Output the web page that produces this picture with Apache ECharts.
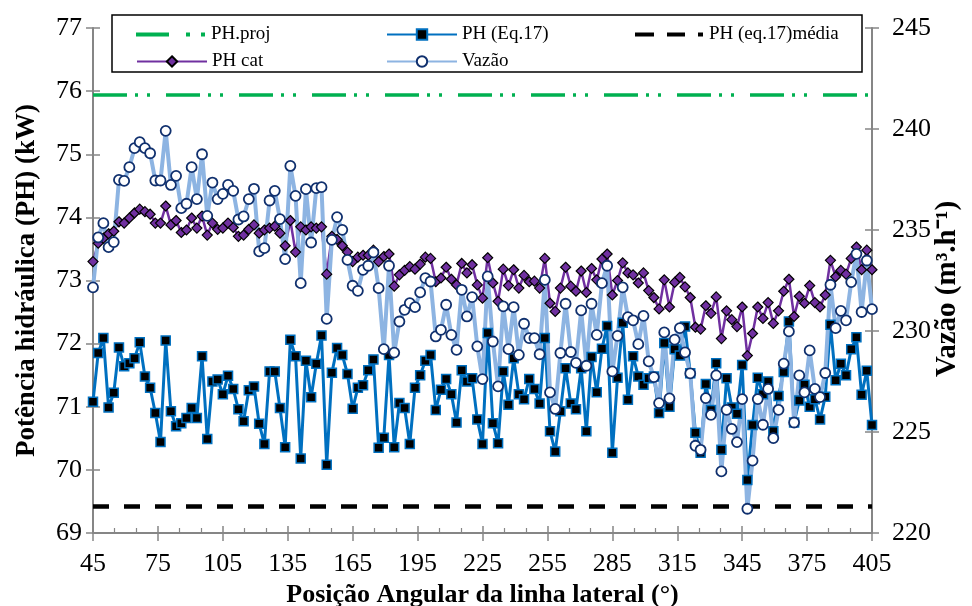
<!DOCTYPE html>
<html>
<head>
<meta charset="utf-8">
<script src="https://cdn.jsdelivr.net/npm/echarts@6/dist/echarts.min.js"></script>
<style>html,body{margin:0;padding:0;background:#fff}#c{width:972px;height:606px}</style>
</head>
<body>
<div id="c"></div>
<script>
// Angular positions (degrees)
const angles = [
45,47.4,49.8,52.2,54.6, 57,59.4,61.8,64.2,66.6, 69,71.4,73.8,76.2,78.6, 81,83.4,85.8,88.2,90.6,
93,95.4,97.8,100.2,102.6, 105,107.4,109.8,112.2,114.6, 117,119.4,121.8,124.2,126.6, 129,131.4,133.8,136.2,138.6,
141,143.4,145.8,148.2,150.6, 153,155.4,157.8,160.2,162.6, 165,167.4,169.8,172.2,174.6, 177,179.4,181.8,184.2,186.6,
189,191.4,193.8,196.2,198.6, 201,203.4,205.8,208.2,210.6, 213,215.4,217.8,220.2,222.6, 225,227.4,229.8,232.2,234.6,
237,239.4,241.8,244.2,246.6, 249,251.4,253.8,256.2,258.6, 261,263.4,265.8,268.2,270.6, 273,275.4,277.8,280.2,282.6,
285,287.4,289.8,292.2,294.6, 297,299.4,301.8,304.2,306.6, 309,311.4,313.8,316.2,318.6, 321,323.4,325.8,328.2,330.6,
333,335.4,337.8,340.2,342.6, 345,347.4,349.8,352.2,354.6, 357,359.4,361.8,364.2,366.6, 369,371.4,373.8,376.2,378.6,
381,383.4,385.8,388.2,390.6, 393,395.4,397.8,400.2,402.6, 405
];

// PH (Eq.17) [kW]
const phEq17 = [
71.08,71.85,72.09,70.99,71.22,71.94,71.64,71.69,71.77,72.02,71.48,71.30,70.90,70.44,72.05,70.93,70.69,70.74,70.82,
70.98,70.82,71.80,70.49,71.40,71.43,71.20,71.49,71.28,70.96,70.77,71.26,71.32,70.73,70.41,71.56,71.56,70.98,70.36,
72.06,71.80,70.18,71.73,71.15,71.68,72.13,70.08,71.54,71.93,71.82,71.52,70.97,71.30,71.34,71.58,71.75,70.35,70.51,71.82,
70.36,71.06,70.98,70.41,71.30,71.50,71.73,71.82,70.95,71.27,71.44,71.20,70.75,71.58,71.40,71.45,70.80,70.41,72.17,
70.74,70.42,71.56,71.03,71.77,71.20,71.12,71.44,71.28,71.05,72.09,70.61,70.29,70.93,71.61,71.05,70.96,71.61,70.61,
71.79,71.23,71.92,72.28,70.27,71.46,72.33,71.11,71.80,71.48,71.35,71.45,71.48,70.90,72.01,71.00,71.91,71.81,72.27,71.53,
70.59,70.27,71.36,70.95,71.69,70.32,71.45,70.99,70.89,71.66,69.84,70.71,71.46,71.20,71.40,70.61,71.17,71.55,72.35,
70.75,71.10,71.35,71.00,71.12,70.80,71.16,72.30,71.42,71.68,71.50,71.91,72.10,71.19,71.57,70.71
];

// PH cat [kW]
const phCat = [
73.30,73.59,73.67,73.74,73.78,73.93,73.91,73.99,74.07,74.13,74.09,74.05,73.91,73.91,74.18,73.88,73.95,73.76,73.80,
73.99,73.83,74.02,73.72,73.91,73.81,73.83,73.91,73.84,73.70,73.72,73.81,73.88,73.75,73.80,73.83,73.86,73.75,73.55,
73.95,73.45,73.85,73.80,73.85,73.83,73.85,73.10,73.70,73.65,73.55,73.45,73.30,73.37,73.40,73.40,73.48,73.30,73.38,73.42,
72.91,73.09,73.16,73.22,73.18,73.26,73.37,73.35,72.98,73.04,73.21,73.02,72.93,73.27,73.12,73.25,72.93,72.72,73.36,
72.96,72.67,73.18,72.92,73.17,72.88,73.08,72.98,72.99,72.88,73.35,72.64,72.51,72.88,73.21,72.91,72.83,73.15,72.81,
73.19,73.01,73.34,73.42,72.77,73.00,73.28,73.12,73.09,72.96,73.12,72.84,72.73,72.55,73.01,72.58,72.97,73.05,72.90,72.73,
72.26,72.23,72.60,72.48,72.74,72.08,72.52,72.38,72.27,72.58,71.81,72.16,72.58,72.40,72.65,72.32,72.52,72.83,73.02,
72.43,72.75,72.64,72.92,72.65,72.58,72.77,73.32,73.06,73.16,73.10,73.35,73.53,73.17,73.48,73.17
];

// Vazão [m3/h]
const vazao = [
232.16,234.63,235.34,234.15,234.40,237.48,237.43,238.11,239.05,239.35,239.05,238.80,237.45,237.45,239.91,237.23,237.68,236.08,236.30,
238.11,236.53,238.75,235.70,237.35,236.53,236.79,237.23,236.94,235.52,235.67,236.53,237.04,233.94,234.10,236.46,236.94,235.54,233.56,
238.17,236.69,232.37,237.02,234.38,237.07,237.12,230.60,234.51,235.64,235.01,233.52,232.24,231.99,233.03,233.23,233.89,232.12,229.10,233.23,
228.93,230.47,231.05,231.38,231.18,231.91,232.62,232.45,229.73,230.06,231.30,229.81,229.07,232.04,230.72,231.68,229.24,227.62,232.70,
229.48,227.26,231.22,229.10,231.18,228.82,230.36,229.65,229.65,228.85,232.53,226.96,226.14,228.91,231.35,228.96,228.42,231.02,228.28,
231.35,229.81,232.37,233.23,228.00,229.76,232.16,230.69,230.53,229.35,230.75,228.50,227.72,226.43,229.93,226.66,229.57,230.14,228.94,227.90,
224.32,224.12,226.68,225.85,227.80,223.05,226.10,225.15,224.50,226.63,221.20,223.58,226.63,225.36,227.13,224.70,226.10,228.38,229.98,
225.47,227.80,226.96,229.04,227.13,226.73,227.92,232.29,230.14,231.00,230.53,232.42,233.82,230.94,233.49,231.08
];

// Constant reference levels [kW]
const phProj = 75.94;
const phMedia = 69.42;

// Axis settings
const xTicks = {min: 45, max: 405, interval: 30};
const yLeft = {min: 69, max: 77, interval: 1};
const yRight = {min: 220, max: 245, interval: 5};

const FONT = '"Liberation Serif", "Times New Roman", serif';
const pair = arr => angles.map((a, i) => [a, arr[i]]);
const flat = v => [[angles[0], v], [angles[angles.length - 1], v]];

const axisGray = '#868686';
const chart = echarts.init(document.getElementById('c'), null, {renderer: 'canvas'});

const baseY = (cfg, pos, margin) => ({
  type: 'value', position: pos, min: cfg.min, max: cfg.max, interval: cfg.interval,
  splitLine: {show: false},
  axisLine: {show: true, onZero: false, lineStyle: {color: axisGray, width: 2}},
  axisTick: {show: true, inside: false, length: 7, lineStyle: {color: axisGray, width: 1.5}},
  axisLabel: {color: '#000', fontFamily: FONT, fontSize: 26, margin: margin}
});

const legendText = {fontFamily: FONT, fontSize: 19, color: '#000'};
const legendBase = {z: 5, itemGap: 0, padding: 0, textStyle: legendText};

const option = {
  animation: false,
  backgroundColor: '#fff',
  grid: {left: 93, right: 100, top: 28, bottom: 73, containLabel: false, outerBoundsMode: 'none'},
  graphic: [{
    type: 'rect', z: 1,
    shape: {x: 112, y: 15, width: 750, height: 57},
    style: {fill: '#fff', stroke: '#000', lineWidth: 1.5}
  }, {
    type: 'text', z: 5, x: 948, y: 289, rotation: Math.PI / 2,
    style: {
      text: 'Vazão (m³.h⁻¹)', fill: '#000', fontFamily: FONT, fontSize: 29, fontWeight: 'bold',
      align: 'center', verticalAlign: 'middle', textAlign: 'center', textVerticalAlign: 'middle'
    }
  }],
  legend: [
    Object.assign({data: [{name: 'PH.proj', icon: 'path://M0,0h33v4h-33zM50,0h4v4h-4zM65,0h4v4h-4z'}],
      left: 136, top: 25, itemWidth: 71, itemHeight: 4}, legendBase),
    Object.assign({data: ['PH (Eq.17)'], left: 386, top: 25, itemWidth: 70, itemHeight: 13}, legendBase),
    Object.assign({data: [{name: 'PH (eq.17)média', icon: 'path://M0,0h19v4h-19zM32,0h18v4h-18zM63,0h5v4h-5z'}],
      left: 635, top: 25, itemWidth: 70, itemHeight: 4}, legendBase),
    Object.assign({data: ['PH cat'], left: 136, top: 52, itemWidth: 70, itemHeight: 13}, legendBase),
    Object.assign({data: ['Vazão'], left: 386, top: 52, itemWidth: 70, itemHeight: 13}, legendBase)
  ],
  xAxis: [{
    type: 'value', position: 'bottom', min: xTicks.min, max: xTicks.max, interval: xTicks.interval,
    splitLine: {show: false},
    axisLine: {show: true, onZero: false, lineStyle: {color: axisGray, width: 2}},
    axisTick: {show: true, inside: false, length: 8, lineStyle: {color: axisGray, width: 1.5}},
    axisLabel: {color: '#000', fontFamily: FONT, fontSize: 26, margin: 18},
    name: 'Posição Angular da linha lateral (°)', nameLocation: 'middle', nameGap: 45,
    nameTextStyle: {color: '#000', fontFamily: FONT, fontSize: 26, fontWeight: 'bold'}
  }, {
    type: 'value', position: 'bottom', min: xTicks.min, max: xTicks.max, interval: xTicks.interval,
    splitLine: {show: false},
    axisLine: {show: false, onZero: false},
    axisTick: {show: true, inside: true, length: 7, lineStyle: {color: axisGray, width: 1.5}},
    minorTick: {show: true, splitNumber: 3, length: 5, lineStyle: {color: axisGray, width: 1.2}},
    axisLabel: {show: false}
  }],
  yAxis: [
    Object.assign(baseY(yLeft, 'left', 11), {
      name: 'Potência hidráulica (PH) (kW)', nameLocation: 'middle', nameRotate: 90, nameGap: 52,
      nameTextStyle: {color: '#000', fontFamily: FONT, fontSize: 27, fontWeight: 'bold'}
    }),
    baseY(yRight, 'right', 20),
    Object.assign(baseY(yLeft, 'left', 11), {axisLine: {show: false, onZero: false}, axisLabel: {show: false},
      axisTick: {show: true, inside: true, length: 7, lineStyle: {color: axisGray, width: 1.5}}}),
    Object.assign(baseY(yRight, 'right', 20), {axisLine: {show: false, onZero: false}, axisLabel: {show: false},
      axisTick: {show: true, inside: true, length: 7, lineStyle: {color: axisGray, width: 1.5}}})
  ],
  series: [
    {
      name: 'PH.proj', type: 'line', xAxisIndex: 0, yAxisIndex: 0, data: flat(phProj),
      symbol: 'none', silent: true,
      lineStyle: {color: '#00B050', width: 3.5, type: [34, 8, 3, 9, 3, 16]},
      itemStyle: {color: '#00B050'}
    },
    {
      name: 'PH (Eq.17)', type: 'line', xAxisIndex: 0, yAxisIndex: 0, data: pair(phEq17),
      symbol: 'rect', symbolSize: 9, showAllSymbol: true,
      lineStyle: {color: '#0070C0', width: 3},
      itemStyle: {color: '#000', borderColor: '#0070C0', borderWidth: 1.5}
    },
    {
      name: 'PH (eq.17)média', type: 'line', xAxisIndex: 0, yAxisIndex: 0, data: flat(phMedia),
      symbol: 'none', silent: true,
      lineStyle: {color: '#000', width: 4.5, type: [16, 15]},
      itemStyle: {color: '#000'}
    },
    {
      name: 'PH cat', type: 'line', xAxisIndex: 0, yAxisIndex: 0, data: pair(phCat),
      symbol: 'diamond', symbolSize: 10, showAllSymbol: true,
      lineStyle: {color: '#7030A0', width: 2.5},
      itemStyle: {color: '#7030A0', borderColor: '#000', borderWidth: 1.2}
    },
    {
      name: 'Vazão', type: 'line', xAxisIndex: 0, yAxisIndex: 1, data: pair(vazao),
      symbol: 'circle', symbolSize: 10, showAllSymbol: true,
      lineStyle: {color: '#8DB4E2', width: 4},
      itemStyle: {color: '#fff', borderColor: '#10306E', borderWidth: 1.8}
    }
  ]
};
chart.setOption(option);
</script>
</body>
</html>
